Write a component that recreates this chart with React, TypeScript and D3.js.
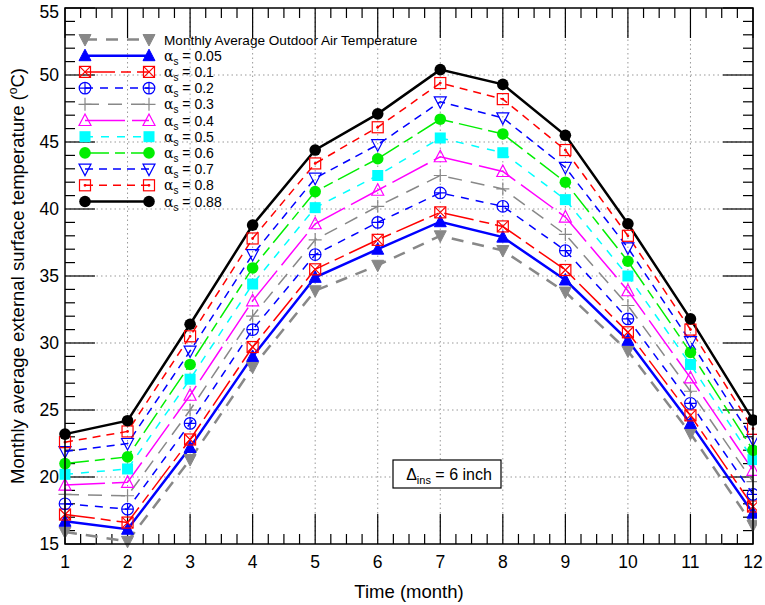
import * as React from "react";
import * as d3 from "d3";

// data
const months = [1, 2, 3, 4, 5, 6, 7, 8, 9, 10, 11, 12];
const outdoorAir = [15.9, 15.2, 21.3, 28.2, 33.9, 35.8, 38.0, 36.9, 33.8, 29.4, 23.25, 16.4];
const alpha005 = [16.7, 16.1, 22.2, 29.0, 34.9, 37.0, 39.05, 37.9, 34.7, 30.2, 24.0, 17.3];
const alpha01 = [17.2, 16.6, 22.8, 29.7, 35.5, 37.7, 39.75, 38.7, 35.45, 30.8, 24.6, 17.8];
const alpha02 = [18.0, 17.6, 24.0, 31.0, 36.6, 39.0, 41.2, 40.2, 36.9, 31.8, 25.5, 18.7];
const alpha03 = [18.7, 18.6, 25.0, 32.0, 37.7, 40.2, 42.5, 41.5, 38.1, 32.8, 26.4, 19.65];
const alpha04 = [19.4, 19.6, 26.1, 33.15, 38.9, 41.4, 43.9, 42.8, 39.4, 33.9, 27.4, 20.5];
const alpha05 = [20.2, 20.6, 27.3, 34.4, 40.1, 42.5, 45.3, 44.2, 40.7, 35.0, 28.4, 21.3];
const alpha06 = [21.0, 21.5, 28.4, 35.6, 41.3, 43.75, 46.7, 45.6, 42.0, 36.1, 29.3, 22.0];
const alpha07 = [21.9, 22.5, 29.4, 36.6, 42.3, 44.8, 48.0, 46.8, 43.1, 37.1, 30.1, 22.8];
const alpha08 = [22.6, 23.4, 30.5, 37.8, 43.4, 46.1, 49.4, 48.2, 44.4, 38.0, 31.0, 23.6];
const alpha088 = [23.2, 24.2, 31.4, 38.8, 44.4, 47.1, 50.4, 49.3, 45.5, 38.9, 31.8, 24.25];

const xTickLabels = ["1", "2", "3", "4", "5", "6", "7", "8", "9", "10", "11", "12"];
const yTickValues = [15, 20, 25, 30, 35, 40, 45, 50, 55];

type Shape =
  | "triDownFilled"
  | "triUpFilled"
  | "squareX"
  | "circlePlus"
  | "plus"
  | "triUpOpen"
  | "squareFilled"
  | "circleFilled"
  | "triDownOpen"
  | "squareDot";

const series: {
  label: string;
  alpha: string | null;
  values: number[];
  color: string;
  width: number;
  dash: string | undefined;
  shape: Shape;
}[] = [
  { label: "Monthly Average Outdoor Air Temperature", alpha: null, values: outdoorAir, color: "#888888", width: 2.5, dash: "12 9", shape: "triDownFilled" },
  { label: "0.05", alpha: "0.05", values: alpha005, color: "#0000ff", width: 2.5, dash: undefined, shape: "triUpFilled" },
  { label: "0.1", alpha: "0.1", values: alpha01, color: "#ff0000", width: 1.5, dash: "30 6 10 6", shape: "squareX" },
  { label: "0.2", alpha: "0.2", values: alpha02, color: "#0000ff", width: 1.5, dash: "8 7", shape: "circlePlus" },
  { label: "0.3", alpha: "0.3", values: alpha03, color: "#888888", width: 1.5, dash: "14 9", shape: "plus" },
  { label: "0.4", alpha: "0.4", values: alpha04, color: "#ff00ff", width: 1.5, dash: "40 7", shape: "triUpOpen" },
  { label: "0.5", alpha: "0.5", values: alpha05, color: "#00ffff", width: 1.5, dash: "8 8", shape: "squareFilled" },
  { label: "0.6", alpha: "0.6", values: alpha06, color: "#00ee00", width: 1.5, dash: "24 6 10 6", shape: "circleFilled" },
  { label: "0.7", alpha: "0.7", values: alpha07, color: "#0000ff", width: 1.5, dash: "8 6", shape: "triDownOpen" },
  { label: "0.8", alpha: "0.8", values: alpha08, color: "#ff0000", width: 1.5, dash: "8 6", shape: "squareDot" },
  { label: "0.88", alpha: "0.88", values: alpha088, color: "#000000", width: 2.5, dash: undefined, shape: "circleFilled" },
];

const width = 765;
const height = 605;
const margin = { top: 8, right: 12, bottom: 61, left: 65 };
const font = "'Liberation Sans', Arial, sans-serif";

function Marker({ shape, x, y, color }: { shape: Shape; x: number; y: number; color: string }) {
  const s = 6;
  const tri = (dir: number) =>
    `M${x - s},${y - dir * 5} L${x + s},${y - dir * 5} L${x},${y + dir * 6.5} Z`;
  switch (shape) {
    case "triDownFilled":
      return <path d={tri(1)} fill={color} stroke={color} strokeWidth={1} />;
    case "triUpFilled":
      return <path d={tri(-1)} fill={color} stroke={color} strokeWidth={1} />;
    case "triUpOpen":
      return <path d={tri(-1)} fill="none" stroke={color} strokeWidth={1.2} />;
    case "triDownOpen":
      return <path d={tri(1)} fill="none" stroke={color} strokeWidth={1.2} />;
    case "squareX":
      return (
        <g fill="none" stroke={color} strokeWidth={1.2}>
          <rect x={x - 5.5} y={y - 5.5} width={11} height={11} />
          <path d={`M${x - 5.5},${y - 5.5} L${x + 5.5},${y + 5.5} M${x + 5.5},${y - 5.5} L${x - 5.5},${y + 5.5}`} />
        </g>
      );
    case "squareDot":
      return (
        <g stroke={color} strokeWidth={1.2}>
          <rect x={x - 5.5} y={y - 5.5} width={11} height={11} fill="none" />
          <circle cx={x} cy={y} r={0.8} fill={color} />
        </g>
      );
    case "squareFilled":
      return <rect x={x - 5.5} y={y - 5.5} width={11} height={11} fill={color} />;
    case "circlePlus":
      return (
        <g fill="none" stroke={color} strokeWidth={1.2}>
          <circle cx={x} cy={y} r={5.8} />
          <path d={`M${x - 5.8},${y} L${x + 5.8},${y} M${x},${y - 5.8} L${x},${y + 5.8}`} />
        </g>
      );
    case "plus":
      return (
        <path
          d={`M${x - 6.5},${y} L${x + 6.5},${y} M${x},${y - 6.5} L${x},${y + 6.5}`}
          stroke={color}
          strokeWidth={1.2}
        />
      );
    case "circleFilled":
      return <circle cx={x} cy={y} r={5.8} fill={color} />;
  }
}

function AlphaLabel({ x, y, value }: { x: number; y: number; value: string }) {
  return (
    <text x={x} y={y} fontSize={14} fontFamily={font} fill="#000">
      <tspan fontFamily="'DejaVu Serif', serif">α</tspan>
      <tspan fontSize={10} dy={4}>s</tspan>
      <tspan dy={-4}> = {value}</tspan>
    </text>
  );
}

export default function App() {
  const x = d3.scaleLinear().domain([1, 12]).range([margin.left, width - margin.right]);
  const y = d3.scaleLinear().domain([15, 55]).range([height - margin.bottom, margin.top]);
  const x0 = x.range()[0];
  const x1 = x.range()[1];
  const y0 = y.range()[0];
  const y1 = y.range()[1];

  const line = d3
    .line<number>()
    .x((_, i) => x(months[i]))
    .y((d) => y(d));

  const xMinor = d3.range(1, 12.001, 0.25).filter((v) => Math.abs(v - Math.round(v)) > 0.01);
  const yMinor = d3.range(15, 55.001, 1).filter((v) => v % 5 !== 0);

  const legendX1 = 85;
  const legendX2 = 149;
  const legendText = 164;
  const legendY = (i: number) => 39.5 + i * 16.2;

  return (
    <svg
      width={width}
      height={height}
      style={{ position: "absolute", left: 0, top: 0, background: "#fff" }}
    >
      <defs>
        <clipPath id="plotClip">
          <rect x={0} y={y1} width={x1 + 4} height={y0 - y1 + 8} />
        </clipPath>
      </defs>
      <rect width={width} height={height} fill="#fff" />

      {/* grid */}
      <g stroke="#999" strokeWidth={1} strokeDasharray="1.5 3">
        {months.slice(1, -1).map((m) => (
          <line key={`gx${m}`} x1={x(m)} x2={x(m)} y1={y1} y2={y0} />
        ))}
        {yTickValues.slice(1, -1).map((v) => (
          <line key={`gy${v}`} x1={x0} x2={x1} y1={y(v)} y2={y(v)} />
        ))}
      </g>

      {/* ticks */}
      <g stroke="#000" strokeWidth={1.2}>
        {months.map((m) => (
          <g key={`tx${m}`}>
            <line x1={x(m)} x2={x(m)} y1={y0} y2={y0 - 30} />
            <line x1={x(m)} x2={x(m)} y1={y1} y2={y1 + 30} />
          </g>
        ))}
        {xMinor.map((m) => (
          <g key={`mx${m}`}>
            <line x1={x(m)} x2={x(m)} y1={y0} y2={y0 - 10} />
            <line x1={x(m)} x2={x(m)} y1={y1} y2={y1 + 10} />
          </g>
        ))}
        {yTickValues.map((v) => (
          <g key={`ty${v}`}>
            <line x1={x0} x2={x0 + 30} y1={y(v)} y2={y(v)} />
            <line x1={x1} x2={x1 - 30} y1={y(v)} y2={y(v)} />
          </g>
        ))}
        {yMinor.map((v) => (
          <g key={`my${v}`}>
            <line x1={x0} x2={x0 + 10} y1={y(v)} y2={y(v)} />
            <line x1={x1} x2={x1 - 10} y1={y(v)} y2={y(v)} />
          </g>
        ))}
      </g>

      {/* series */}
      <g clipPath="url(#plotClip)">
        {series.map((s, i) => (
          <path
            key={`l${i}`}
            d={line(s.values) ?? ""}
            fill="none"
            stroke={s.color}
            strokeWidth={s.width}
            strokeDasharray={s.dash}
          />
        ))}
        {series.map((s, i) => (
          <g key={`m${i}`}>
            {s.values.map((v, j) => (
              <Marker key={j} shape={s.shape} x={x(months[j])} y={y(v)} color={s.color} />
            ))}
          </g>
        ))}
      </g>

      {/* frame */}
      <rect x={x0} y={y1} width={x1 - x0} height={y0 - y1} fill="none" stroke="#000" strokeWidth={1.5} />

      {/* tick labels */}
      <g fontFamily={font} fontSize={17.5} fill="#000">
        {months.map((m, i) => (
          <text key={`lx${m}`} x={x(m)} y={y0 + 24} textAnchor="middle">
            {xTickLabels[i]}
          </text>
        ))}
        {yTickValues.map((v) => (
          <text key={`ly${v}`} x={x0 - 6} y={Math.max(y(v) + 6, 18)} textAnchor="end">
            {v}
          </text>
        ))}
      </g>

      {/* axis titles */}
      <text x={(x0 + x1) / 2} y={598} textAnchor="middle" fontFamily={font} fontSize={18.5}>
        Time (month)
      </text>
      <text
        transform={`translate(24, ${(y0 + y1) / 2}) rotate(-90)`}
        textAnchor="middle"
        fontFamily={font}
        fontSize={18.5}
      >
        Monthly average external surface temperature (
        <tspan fontSize={12} dy={-7}>o</tspan>
        <tspan dy={7}>C)</tspan>
      </text>

      {/* legend */}
      <g>
        {series.map((s, i) => (
          <g key={`lg${i}`}>
            <line
              x1={legendX1}
              x2={legendX2}
              y1={legendY(i)}
              y2={legendY(i)}
              stroke={s.color}
              strokeWidth={s.width}
              strokeDasharray={s.dash}
            />
            <Marker shape={s.shape} x={legendX1} y={legendY(i)} color={s.color} />
            <Marker shape={s.shape} x={legendX2} y={legendY(i)} color={s.color} />
            {s.alpha === null ? (
              <text x={legendText} y={legendY(i) + 5} fontSize={13.6} fontFamily={font}>
                {s.label}
              </text>
            ) : (
              <AlphaLabel x={legendText} y={legendY(i) + 5} value={s.alpha} />
            )}
          </g>
        ))}
      </g>

      {/* annotation */}
      <rect x={393} y={460} width={108} height={28} fill="#fff" stroke="#000" strokeWidth={1.2} />
      <text x={449} y={480} textAnchor="middle" fontFamily={font} fontSize={16}>
        Δ<tspan fontSize={11} dy={4}>ins</tspan>
        <tspan dy={-4}> = 6 inch</tspan>
      </text>
    </svg>
  );
}
